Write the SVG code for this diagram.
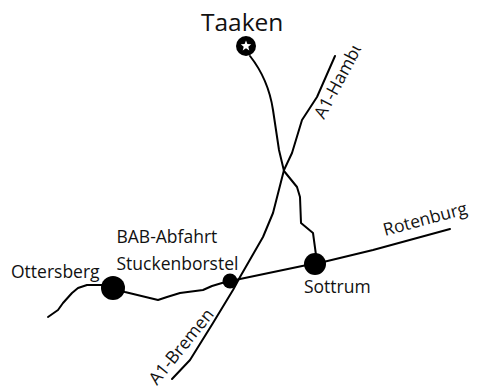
<svg xmlns="http://www.w3.org/2000/svg" width="478" height="390" viewBox="0 0 478 390">
  <style>
    .road { fill: none; stroke: #000; stroke-width: 2; stroke-linejoin: round; stroke-linecap: round; }
    .lbl { font-family: "Open Sans", "Noto Sans", sans-serif; font-size: 17.5px; fill: #111; }
    .title { font-family: "Open Sans", "Noto Sans", sans-serif; font-size: 24.5px; fill: #111; }
    .dot { fill: #000; }
  </style>
  <defs>
    <clipPath id="clipHamb" clipPathUnits="userSpaceOnUse">
      <rect x="-5" y="-20" width="85" height="30"/>
    </clipPath>
  </defs>
  <rect width="478" height="390" fill="#fff"/>
  <g id="connectors">
    <path id="road-taaken" class="road" d="M250,56 C261,70 270,90 273,110 L279,150 L284,171 L297,187 L300,197 L301,223 L313,233 L316,255"/>
    <path id="road-a1" class="road" d="M172,379 L190,360 L213,323 L233,290 L240,277 L263,237 L273,213 L284,170 L292,153 L302,120 L317,97 L335,56"/>
    <path id="road-main" class="road" d="M48,317 L58,310 L63,303 L72,293 L78,288 L87,285 L102,285 L113,288 L125,292 L158,300 L167,297 L180,293 L203,290 L212,286 L222,283 L230,281 L240,279 L307,265 L315,264 L373,250 L450,229"/>
  </g>
  <g id="taaken">
    <circle cx="246" cy="46" r="10" class="dot"/>
    <polygon fill="#fff" points="246,40.5 247.4,44.1 251.2,44.3 248.3,46.7 249.3,50.4 246,48.3 242.7,50.4 243.7,46.7 240.8,44.3 244.6,44.1"/>
    <text class="title" x="201" y="31">Taaken</text>
  </g>
  <g id="ottersberg">
    <circle cx="113" cy="288" r="12" class="dot"/>
    <text class="lbl" x="11" y="278">Ottersberg</text>
  </g>
  <g id="stuckenborstel">
    <circle cx="230" cy="281" r="7.5" class="dot"/>
    <text class="lbl" x="116.5" y="243">BAB-Abfahrt</text>
    <text class="lbl" x="116.5" y="270">Stuckenborstel</text>
  </g>
  <g id="sottrum">
    <circle cx="315" cy="264" r="11" class="dot"/>
    <text class="lbl" x="304" y="293">Sottrum</text>
  </g>
  <g id="rotenburg">
    <text class="lbl" transform="translate(385,236) rotate(-15)">Rotenburg</text>
  </g>
  <g id="a1-bremen">
    <text class="lbl" transform="translate(157,386) rotate(-51)">A1-Bremen</text>
  </g>
  <g id="a1-hamburg" transform="translate(324,120) rotate(-62)">
    <text class="lbl" x="0" y="0" clip-path="url(#clipHamb)">A1-Hamburg</text>
  </g>
</svg>
